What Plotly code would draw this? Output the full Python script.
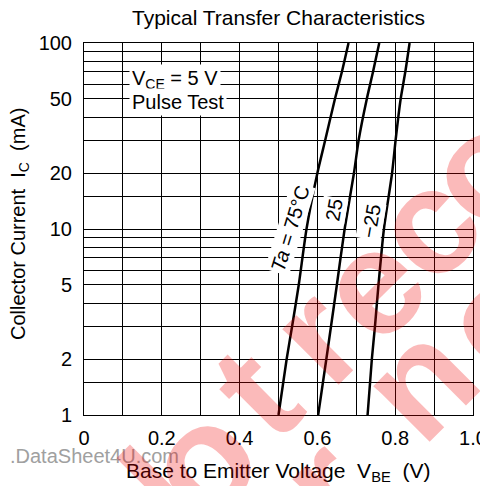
import plotly.graph_objects as go

# ---- data ----
ic_ma = [1, 2, 3, 5, 10, 20, 30, 50, 70, 100]
vbe_75c = [0.500, 0.521, 0.535, 0.552, 0.572, 0.600, 0.620, 0.645, 0.663, 0.680]
vbe_25c = [0.602, 0.623, 0.635, 0.650, 0.670, 0.694, 0.706, 0.727, 0.743, 0.759]
vbe_m25c = [0.729, 0.740, 0.748, 0.757, 0.771, 0.792, 0.801, 0.814, 0.826, 0.837]

x_grid = [0, 0.1, 0.2, 0.3, 0.4, 0.5, 0.6, 0.7, 0.8, 0.9, 1.0]
x_labels = ["0", "", "0.2", "", "0.4", "", "0.6", "", "0.8", "", "1.0"]
y_grid = [1, 1.5, 2, 3, 4, 5, 6, 7, 8, 9, 10, 15, 20, 30, 40, 50, 60, 70, 80, 90, 100]
y_labels = ["1", "", "2", "", "", "5", "", "", "", "", "10", "", "20", "", "", "50",
            "", "", "", "", "100"]

FONT = "Liberation Sans, Arial, sans-serif"
# the page body adds an 8 px offset; figure is sized to fill the rest of the window
W, H = 480, 478
L, R, T, B = 76, 15, 35, 71
PW, PH = W - L - R, H - T - B   # 389 x 372


def px(xp):
    """window pixel x -> paper x"""
    return (xp - 84) / PW


def py(yp):
    """window pixel y -> paper y"""
    return (415 - yp) / PH


fig = go.Figure()
for v in (vbe_75c, vbe_25c, vbe_m25c):
    fig.add_trace(go.Scatter(x=v, y=ic_ma, mode="lines",
                             line=dict(color="black", width=2.5, shape="spline", smoothing=0.6),
                             showlegend=False, hoverinfo="skip"))

ann = []
# title
ann.append(dict(text="Typical Transfer Characteristics", xref="paper", yref="paper",
                x=0.5, y=py(17), xanchor="center", yanchor="middle", showarrow=False,
                font=dict(size=21, color="black", family=FONT)))
# axis titles
ann.append(dict(text="Base to Emitter Voltage\u00a0\u00a0V<sub>BE</sub>\u00a0\u00a0(V)",
                xref="paper", yref="paper", x=px(278), y=py(472), xanchor="center",
                yanchor="middle", showarrow=False, font=dict(size=21, color="black", family=FONT)))
ann.append(dict(text="Collector Current\u00a0\u00a0I<sub>C</sub>\u00a0\u00a0(mA)",
                xref="paper", yref="paper", x=px(19), y=py(224), xanchor="center",
                yanchor="middle", textangle=-90, showarrow=False,
                font=dict(size=20, color="black", family=FONT)))
# condition box
ann.append(dict(text="V<sub>CE</sub> = 5 V", xref="paper", yref="paper", x=px(129), y=py(79),
                xanchor="left", yanchor="middle", showarrow=False, bgcolor="white",
                borderpad=2, font=dict(size=20, color="black", family=FONT)))
ann.append(dict(text="Pulse Test", xref="paper", yref="paper", x=px(129), y=py(102),
                xanchor="left", yanchor="middle", showarrow=False, bgcolor="white",
                borderpad=2, font=dict(size=20, color="black", family=FONT)))
# curve labels
ann.append(dict(text="<i>Ta</i> = 75°C", xref="paper", yref="paper", x=px(290), y=py(229),
                xanchor="center", yanchor="middle", textangle=-73, showarrow=False,
                bgcolor="white", borderpad=1, font=dict(size=20, color="black", family=FONT)))
ann.append(dict(text="25", xref="paper", yref="paper", x=px(334), y=py(210),
                xanchor="center", yanchor="middle", textangle=-80, showarrow=False,
                bgcolor="white", borderpad=1, font=dict(size=20, color="black", family=FONT)))
ann.append(dict(text="\u221225", xref="paper", yref="paper", x=px(371), y=py(221),
                xanchor="center", yanchor="middle", textangle=-80, showarrow=False,
                bgcolor="white", borderpad=1, font=dict(size=20, color="black", family=FONT)))
# source text
ann.append(dict(text=".DataSheet4U.com", xref="paper", yref="paper", x=px(8), y=py(456),
                xanchor="left", yanchor="middle", showarrow=False,
                font=dict(size=20, color="#a0a0a0", family=FONT)))

# watermark letters (centre pixel positions in the window)
wm = [("N", 135, 512), ("o", 200, 460), ("t", 255, 392), ("r", 315, 335), ("e", 370, 285),
      ("c", 425, 225), ("o", 480, 168), ("r", 325, 485), ("n", 418, 380), ("e", 495, 318)]
for ch, xp, yp in wm:
    ann.append(dict(text="<b>%s</b>" % ch, xref="paper", yref="paper", x=px(xp), y=py(yp),
                    xanchor="center", yanchor="middle", textangle=-45, showarrow=False,
                    font=dict(size=150, color="rgba(240,0,0,0.27)", family=FONT)))

axis_common = dict(showgrid=True, gridcolor="black", gridwidth=1, zeroline=False,
                   showline=True, mirror=True, linecolor="black", linewidth=1,
                   automargin=False, ticks="",
                   tickfont=dict(size=20, color="black", family=FONT))

fig.update_layout(
    width=W, height=H, margin=dict(l=L, r=R, t=T, b=B, autoexpand=False),
    paper_bgcolor="white", plot_bgcolor="white",
    xaxis=dict(range=[0, 1], tickmode="array", tickvals=x_grid, ticktext=x_labels,
               ticklabelstandoff=5, **axis_common),
    yaxis=dict(type="log", range=[0, 2], tickmode="array", tickvals=y_grid, ticktext=y_labels,
               ticklabelstandoff=7, **axis_common),
    annotations=ann,
)

fig.write_html("out.html")
